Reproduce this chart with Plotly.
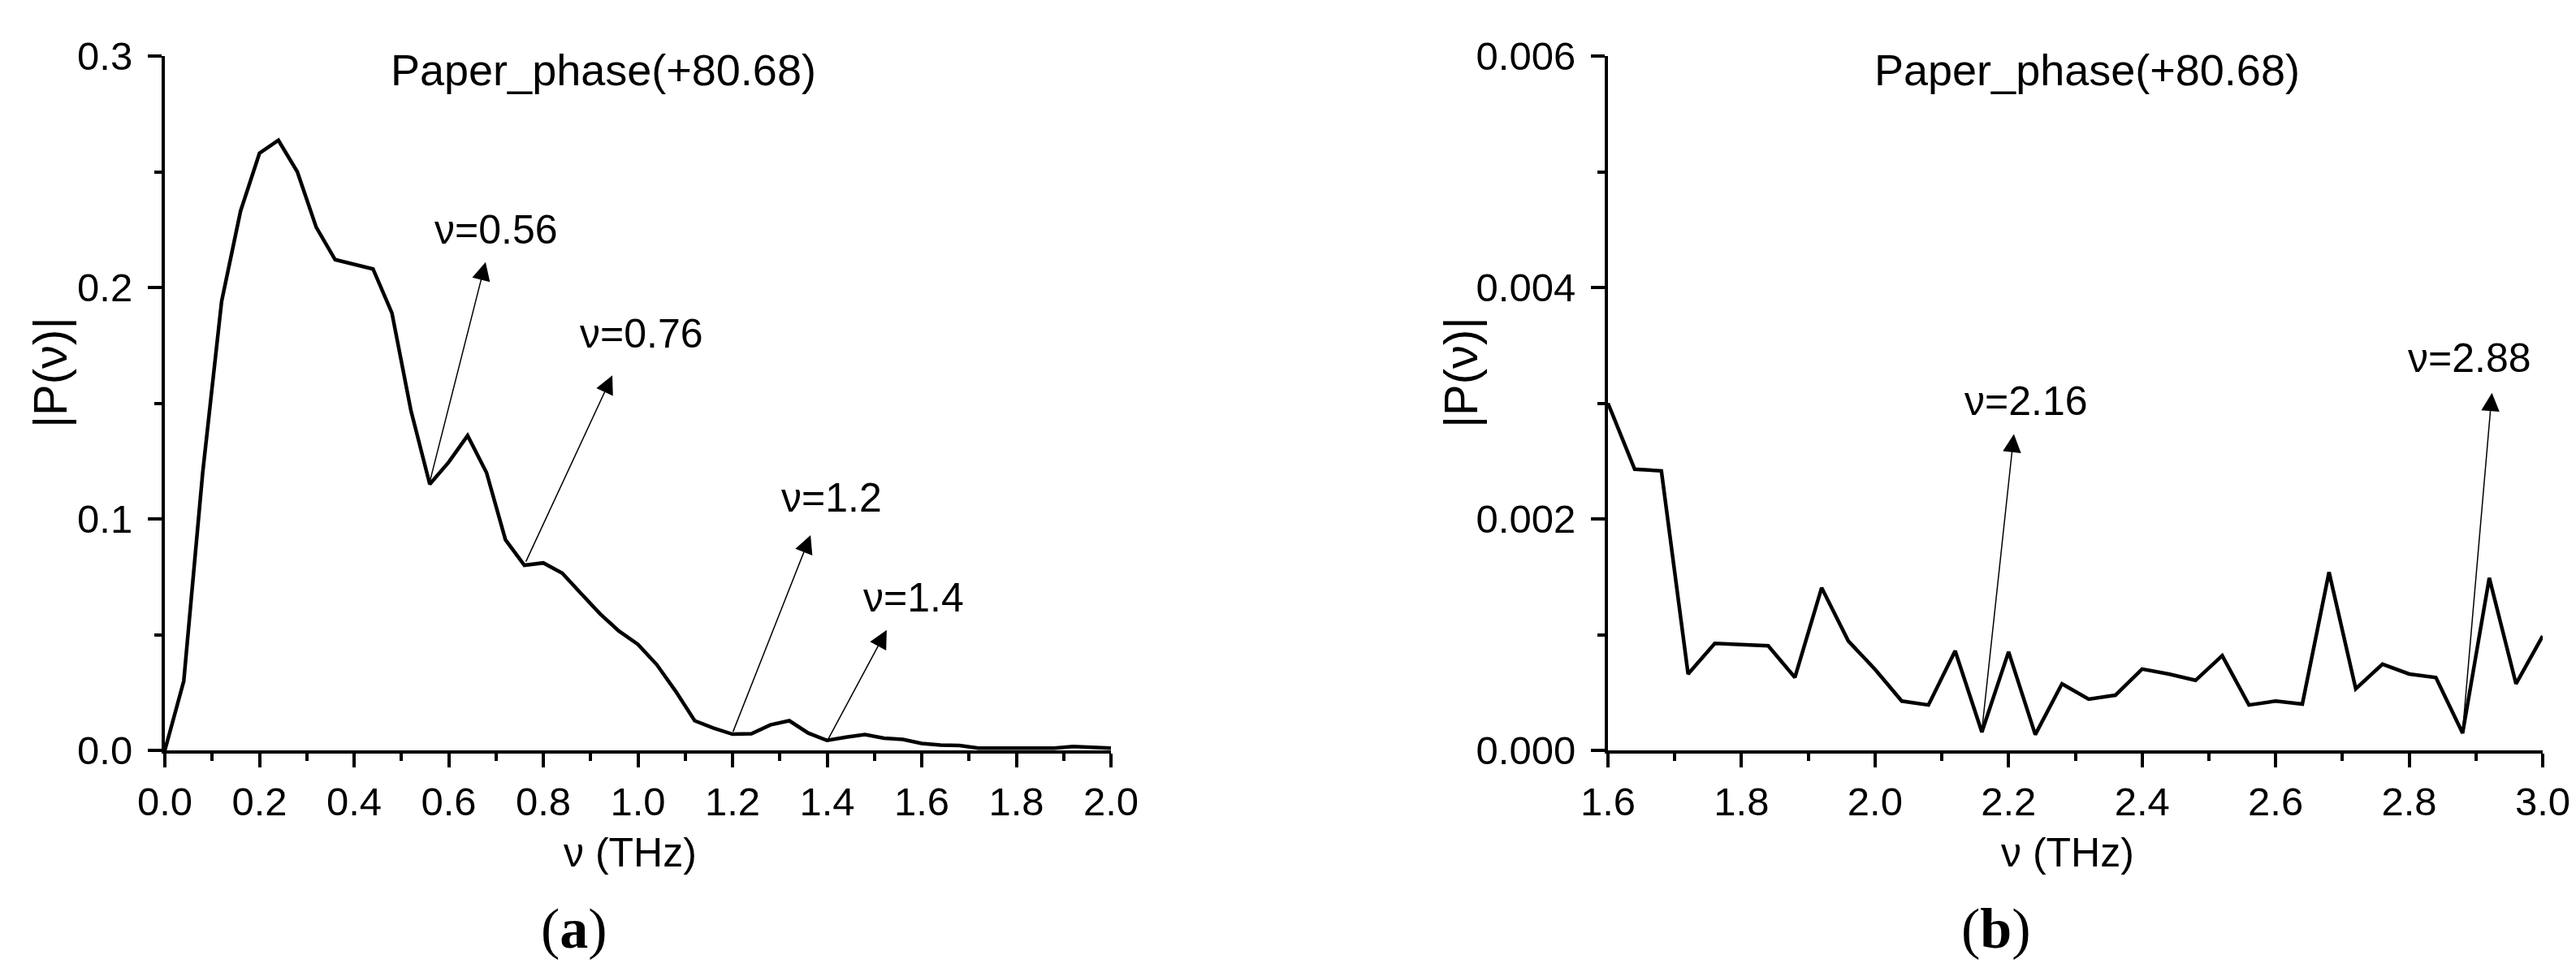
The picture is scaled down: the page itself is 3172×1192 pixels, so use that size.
import plotly.graph_objects as go

# ---- data ----
freq_a = [0.00, 0.04, 0.08, 0.12, 0.16, 0.20, 0.24, 0.28, 0.32, 0.36, 0.40, 0.44, 0.48, 0.52,
          0.56, 0.60, 0.64, 0.68, 0.72, 0.76, 0.80, 0.84, 0.88, 0.92, 0.96, 1.00, 1.04, 1.08,
          1.12, 1.16, 1.20, 1.24, 1.28, 1.32, 1.36, 1.40, 1.44, 1.48, 1.52, 1.56, 1.60, 1.64,
          1.68, 1.72, 1.76, 1.80, 1.84, 1.88, 1.92, 1.96, 2.00]
p_a = [0.000, 0.030, 0.120, 0.194, 0.233, 0.258, 0.2636, 0.250, 0.226, 0.212, 0.210, 0.208,
       0.189, 0.147, 0.115, 0.1245, 0.136, 0.120, 0.091, 0.080, 0.081, 0.0766, 0.0677, 0.059,
       0.0515, 0.0458, 0.037, 0.0255, 0.0128, 0.0096, 0.0070, 0.0072, 0.0110, 0.0128, 0.0075,
       0.0043, 0.0057, 0.0068, 0.0053, 0.0047, 0.0030, 0.0023, 0.0021, 0.0010, 0.0010, 0.0010,
       0.0010, 0.0010, 0.0017, 0.0012, 0.0010]

freq_b = [1.60, 1.64, 1.68, 1.72, 1.76, 1.80, 1.84, 1.88, 1.92, 1.96, 2.00, 2.04, 2.08, 2.12,
          2.16, 2.20, 2.24, 2.28, 2.32, 2.36, 2.40, 2.44, 2.48, 2.52, 2.56, 2.60, 2.64, 2.68,
          2.72, 2.76, 2.80, 2.84, 2.88, 2.92, 2.96, 3.00]
p_b = [0.00300, 0.00243, 0.002415, 0.00066, 0.000924, 0.000916, 0.000903, 0.00063, 0.001405,
       0.000945, 0.00070, 0.000426, 0.000392, 0.00086, 0.000158, 0.000852, 0.000136, 0.000575,
       0.000443, 0.000477, 0.000703, 0.00066, 0.000605, 0.000818, 0.000392, 0.000426, 0.00040,
       0.00154, 0.000532, 0.000745, 0.00066, 0.00063, 0.000149, 0.00149, 0.000575, 0.000988]

title_text = "Paper_phase(+80.68)"
x_title = "ν (THz)"
y_title = "|P(ν)|"

ticks_ax = [0.0, 0.2, 0.4, 0.6, 0.8, 1.0, 1.2, 1.4, 1.6, 1.8, 2.0]
ticks_ay = [0.0, 0.1, 0.2, 0.3]
ticks_bx = [1.6, 1.8, 2.0, 2.2, 2.4, 2.6, 2.8, 3.0]
ticks_by = [0.000, 0.002, 0.004, 0.006]

# annotations: label, tail (x, y), head (x, y), text position (x, y)
ann_a_labels = ["ν=0.56", "ν=0.76", "ν=1.2", "ν=1.4"]
ann_a_tail = [(0.56, 0.116), (0.762, 0.081), (1.20, 0.0075), (1.40, 0.004)]
ann_a_head = [(0.678, 0.211), (0.946, 0.162), (1.365, 0.093), (1.526, 0.052)]
ann_a_text = [(0.70, 0.225), (1.008, 0.180), (1.41, 0.109), (1.583, 0.066)]

ann_b_labels = ["ν=2.16", "ν=2.88"]
ann_b_tail = [(2.16, 0.00017), (2.88, 0.00016)]
ann_b_head = [(2.208, 0.002734), (2.924, 0.00309)]
ann_b_text = [(2.226, 0.00302), (2.89, 0.00339)]

# ---- figure ----
W, H = 3172, 1192
fig = go.Figure()
fig.add_trace(go.Scatter(x=freq_a, y=p_a, mode="lines", line=dict(color="black", width=4.5),
                         xaxis="x", yaxis="y", showlegend=False, hoverinfo="skip"))
fig.add_trace(go.Scatter(x=freq_b, y=p_b, mode="lines", line=dict(color="black", width=4.5),
                         xaxis="x2", yaxis="y2", showlegend=False, hoverinfo="skip"))

tick_font = dict(family="Liberation Sans, Arial", size=49, color="black")
axis_common = dict(showline=True, linecolor="black", linewidth=4, showgrid=False, zeroline=False,
                   ticks="outside", ticklen=17, tickwidth=4, tickcolor="black", tickfont=tick_font,
                   mirror=False, automargin=False)
minor_common = dict(ticks="outside", ticklen=9, tickwidth=4, tickcolor="black")

x_dom_a = [195 / W, 1360 / W]
x_dom_b = [1972 / W, 3123 / W]
y_dom = [1 - 916 / H, 1 - 61 / H]

fig.update_layout(
    width=W, height=H, margin=dict(l=0, r=0, t=0, b=0, pad=0),
    plot_bgcolor="white", paper_bgcolor="white",
    xaxis=dict(domain=x_dom_a, range=[0, 2.0], tickvals=ticks_ax, tickformat=".1f",
               minor=dict(dtick=0.1, tick0=0, **minor_common), anchor="y", **axis_common),
    yaxis=dict(domain=y_dom, range=[0, 0.3], tickvals=ticks_ay, tickformat=".1f", ticklabelstandoff=9,
               minor=dict(dtick=0.05, tick0=0, **minor_common), anchor="x", **axis_common),
    xaxis2=dict(domain=x_dom_b, range=[1.6, 3.0], tickvals=ticks_bx, tickformat=".1f",
                minor=dict(dtick=0.1, tick0=1.6, **minor_common), anchor="y2", **axis_common),
    yaxis2=dict(domain=y_dom, range=[0, 0.006], tickvals=ticks_by, tickformat=".3f", ticklabelstandoff=9,
                minor=dict(dtick=0.001, tick0=0, **minor_common), anchor="x2", **axis_common),
)

annotations = []
sans = "Liberation Sans, Arial"
ann_font = dict(family=sans, size=50, color="black")

def paper_text(text, px, py, size, family=sans, angle=0):
    annotations.append(dict(text=text, x=px / W, y=1 - py / H, xref="paper", yref="paper",
                            showarrow=False, textangle=angle,
                            font=dict(family=family, size=size, color="black"),
                            xanchor="center", yanchor="middle"))

# panel titles
paper_text(title_text, 735, 78, 54)
paper_text(title_text, 2562, 78, 54)
# axis titles
paper_text(x_title, 768, 1042, 50)
paper_text(x_title, 2538, 1042, 50)
paper_text(y_title, 53, 451, 58, angle=-90)
paper_text(y_title, 1790, 451, 58, angle=-90)
# panel labels
paper_text("(<b>a</b>)", 699, 1135, 70, family="Liberation Serif, Times New Roman")
paper_text("(<b>b</b>)", 2450, 1135, 70, family="Liberation Serif, Times New Roman")

def add_arrows(labels, tails, heads, texts, xr, yr):
    for lab, (tx, ty), (hx, hy), (px, py) in zip(labels, tails, heads, texts):
        annotations.append(dict(x=hx, y=hy, ax=tx, ay=ty, xref=xr, yref=yr, axref=xr, ayref=yr,
                                showarrow=True, arrowhead=2, arrowsize=3, arrowwidth=1.5,
                                arrowcolor="black", text=""))
        annotations.append(dict(x=px, y=py, xref=xr, yref=yr, text=lab, showarrow=False,
                                font=ann_font, xanchor="center", yanchor="middle"))

add_arrows(ann_a_labels, ann_a_tail, ann_a_head, ann_a_text, "x", "y")
add_arrows(ann_b_labels, ann_b_tail, ann_b_head, ann_b_text, "x2", "y2")

fig.update_layout(annotations=annotations)
fig.write_html("out.html")
